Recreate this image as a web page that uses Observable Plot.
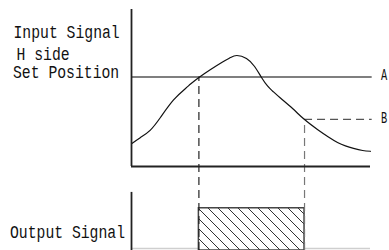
<!DOCTYPE html>
<html>
<head>
<meta charset="utf-8">
<script src="https://cdn.jsdelivr.net/npm/d3@7"></script>
<script src="https://cdn.jsdelivr.net/npm/@observablehq/plot@0.6"></script>
<style>
  html, body { margin: 0; padding: 0; background: #fff; }
  #chart svg { display: block; }
</style>
</head>
<body>
<div id="chart"></div>
<script>
// Input signal curve (time 0..10, level 0..100)
const time  = [0, 0.38, 0.79, 1.21, 1.76, 2.26, 2.47, 2.82, 3.31, 3.81, 4.14, 4.41, 4.81, 5.15, 5.44, 5.69, 5.9, 6.23, 6.74, 7.24, 7.78, 8.24, 8.62, 8.95, 9.29, 9.67, 10];
const level = [14.5, 18.5, 23.2, 31.2, 42.4, 49.7, 52.5, 56.7, 61.8, 66.6, 69.4, 70.7, 68.8, 63.7, 56.7, 51.3, 48.1, 43.6, 36.9, 29.9, 23.6, 18.8, 15.3, 13.1, 11.5, 10.2, 9.7];

// Set positions and switching times
const levelA = 57;       // H side set position
const levelB = 30;       // release position
const tOn = 2.82;        // output turns on
const tOff = 7.24;       // output turns off

// Output panel levels (same y scale, below the input panel)
const outputAxisTop = -16.5;
const outputOn = -26.6;
const outputFloor = -53.5;
const outputBase = -52.2;

// Labels
const inputLabels = ["Input Signal", "H side", "Set Position"];
const lineLabels = ["A", "B"];
const outputLabel = "Output Signal";

const curve = time.map((t, i) => ({t, v: level[i]}));
const font = "Liberation Mono";
const fs = 17.5;

const plot = Plot.plot({
  width: 389,
  height: 250,
  marginLeft: 131,
  marginRight: 19,
  marginTop: 9,
  marginBottom: 0,
  x: {domain: [0, 10], axis: null},
  y: {domain: [outputFloor, 100], axis: null},
  style: {background: "#fff", color: "#111", fontFamily: font, fontSize: fs + "px"},
  marks: [
    // output panel faint baseline
    Plot.ruleY([outputBase], {x1: 0, x2: 10, stroke: "#cfcfcf", strokeWidth: 1.5}),
    // hatched output rectangle
    Plot.rect([{x1: tOn, x2: tOff}], {x1: "x1", x2: "x2", y1: outputFloor, y2: outputOn, fill: "url(#hatch)", stroke: "#444", strokeWidth: 1.5}),
    // set position A
    Plot.ruleY([levelA], {x1: 0, x2: 10.07, stroke: "#555", strokeWidth: 1.3}),
    // position B dashed
    Plot.ruleY([levelB], {x1: tOff, x2: 10.07, stroke: "#555", strokeWidth: 1.2, strokeDasharray: "8,5"}),
    // dashed verticals
    Plot.ruleX([tOn], {y1: outputFloor, y2: levelA, stroke: "#222", strokeWidth: 1.2, strokeDasharray: "8,5"}),
    Plot.ruleX([tOff], {y1: outputFloor, y2: levelB, stroke: "#777", strokeWidth: 1.2, strokeDasharray: "8,5"}),
    // input signal curve
    Plot.line(curve, {x: "t", y: "v", curve: "natural", stroke: "#111", strokeWidth: 1.2}),
    // axes
    Plot.ruleX([0], {y1: 0, y2: 100, stroke: "#222", strokeWidth: 1.8}),
    Plot.ruleY([0], {x1: 0, x2: 10, stroke: "#222", strokeWidth: 1.8}),
    Plot.ruleX([0], {y1: outputFloor, y2: outputAxisTop, stroke: "#222", strokeWidth: 1.8}),
    // labels
    Plot.text([inputLabels[0]], {x: 0, y: levelA, text: d => d, dx: -118, dy: -39, textAnchor: "start", lineAnchor: "bottom", fontSize: fs, fontFamily: font, className: "lbl"}),
    Plot.text([inputLabels[1]], {x: 0, y: levelA, text: d => d, dx: -115, dy: -17.5, textAnchor: "start", lineAnchor: "bottom", fontSize: fs, fontFamily: font, className: "lbl"}),
    Plot.text([inputLabels[2]], {x: 0, y: levelA, text: d => d, dx: -118.5, dy: 0.5, textAnchor: "start", lineAnchor: "bottom", fontSize: fs, fontFamily: font, className: "lbl"}),
    Plot.text(lineLabels, {x: 10, y: (d, i) => [levelA, levelB][i], text: d => d, dx: 10.5, dy: -2, textAnchor: "start", lineAnchor: "middle", fontSize: 16, fontFamily: font, className: "lbl"}),
    Plot.text([outputLabel], {x: 0, frameAnchor: "bottom", text: d => d, dx: -121.5, dy: -13, textAnchor: "start", lineAnchor: "bottom", fontSize: fs, fontFamily: font, className: "lbl"})
  ]
});

// condense the monospace labels to the narrow, tall look of the original
d3.select(plot).selectAll("g.lbl text").each(function() {
  const s = this.textContent || "";
  const per = s.length === 1 ? 6.2 : 8.85;
  this.setAttribute("textLength", (s.length * per).toFixed(1));
  this.setAttribute("lengthAdjust", "spacingAndGlyphs");
});

// hatch pattern
const defs = d3.select(plot).insert("defs", ":first-child");
const pat = defs.append("pattern")
  .attr("id", "hatch")
  .attr("patternUnits", "userSpaceOnUse")
  .attr("width", 10)
  .attr("height", 10);
pat.append("rect").attr("width", 10).attr("height", 10).attr("fill", "#fff");
pat.append("path")
  .attr("d", "M0,0L10,10M-5,5L5,15M5,-5L15,5")
  .attr("stroke", "#333")
  .attr("stroke-width", 1);

document.getElementById("chart").append(plot);
</script>
</body>
</html>
